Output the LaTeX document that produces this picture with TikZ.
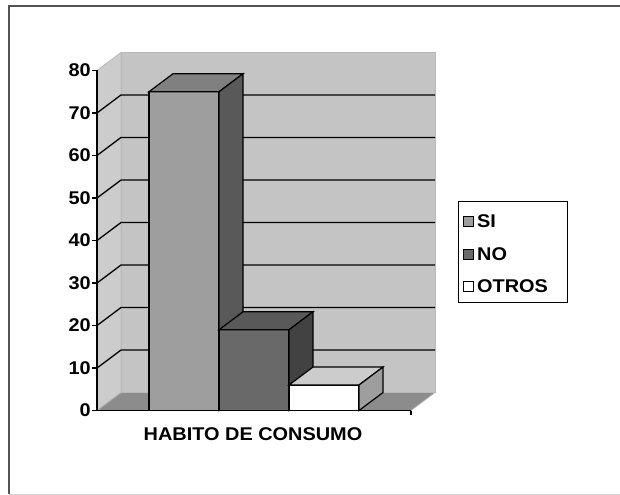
\documentclass[tikz,border=0pt]{standalone}
\usepackage{fontspec}
\newfontfamily\chartfont[FakeStretch=1.08]{Liberation Sans}
\definecolor{wallback}{gray}{0.77}
\definecolor{wallside}{gray}{0.80}
\definecolor{floorc}{gray}{0.55}
\definecolor{siF}{gray}{0.62}
\definecolor{siT}{gray}{0.50}
\definecolor{siS}{gray}{0.35}
\definecolor{noF}{gray}{0.41}
\definecolor{noT}{gray}{0.35}
\definecolor{noS}{gray}{0.26}
\definecolor{otF}{gray}{1}
\definecolor{otT}{gray}{0.80}
\definecolor{otS}{gray}{0.62}
\newcommand{\drawbar}[6]{%
  \pgfmathsetmacro{\yt}{410.5-4.25*#3}%
  \filldraw[barline, fill=#4] (#1,410.5) rectangle (#2,\yt);
  \filldraw[barline, fill=#5] (#1,\yt) -- ({#1+24},{\yt-18}) -- ({#2+24},{\yt-18}) -- (#2,\yt) -- cycle;
  \filldraw[barline, fill=#6] (#2,\yt) -- ({#2+24},{\yt-18}) -- ({#2+24},392.5) -- (#2,410.5) -- cycle;
}
\begin{document}
\begin{tikzpicture}[x=1bp,y=-1bp,
  lbl/.style={font=\chartfont\bfseries\fontsize{18.5}{21}\selectfont, text=black, inner sep=0pt},
  barline/.style={draw=black, line width=1.2bp, line join=miter},
  grid/.style={draw=black, line width=1.3bp},
  axisline/.style={draw=black, line width=1.3bp},
  wallline/.style={draw=gray!55, line width=0.8bp},
  legsq/.style={draw=black, line width=0.8bp}]
\useasboundingbox (0,0) rectangle (620,495);
% outer frame
\draw[gray!65!black, line width=1.5bp] (9,494) -- (9,6) -- (620,6);
\draw[gray!35, line width=1bp] (9,494) -- (620,494);
% walls and floor
\filldraw[wallline, fill=wallback] (121,52.5) rectangle (435,392.5);
\filldraw[wallline, fill=wallside] (97,70.5) -- (121,52.5) -- (121,392.5) -- (97,410.5) -- cycle;
\filldraw[wallline, fill=floorc] (97,410.5) -- (121,392.5) -- (435,392.5) -- (411,410.5) -- cycle;
% gridlines
\foreach \v in {10,20,...,70} {
  \pgfmathsetmacro{\yy}{410.5-4.25*\v}
  \draw[grid] (97,\yy) -- (121,{\yy-18}) -- (435,{\yy-18});
}
% axes
\draw[axisline] (97,70.5) -- (97,410.5) -- (411,410.5);
\draw[axisline] (411,410.5) -- (411,415);
\foreach \v in {0,10,...,80} {
  \pgfmathsetmacro{\yy}{410.5-4.25*\v}
  \draw[axisline] (92,\yy) -- (97,\yy);
  \node[lbl, anchor=east] (y\v) at (91,\yy) {\v};
}
% bars
\drawbar{149}{219}{75}{siF}{siT}{siS}
\drawbar{219}{289}{19}{noF}{noT}{noS}
\drawbar{289}{359}{6}{otF}{otT}{otS}
% x label
\node[lbl] (xlab) at (253,434) {HABITO DE CONSUMO};
% legend
\draw[black, line width=1bp, fill=white] (458,202) rectangle (567,302);
\node[legsq, fill=siF, minimum size=10bp, inner sep=0pt] (sqsi) at (468,221.5) {};
\node[legsq, fill=noF, minimum size=10bp, inner sep=0pt] (sqno) at (468,254) {};
\node[legsq, fill=otF, minimum size=10bp, inner sep=0pt] (sqot) at (468,286) {};
\node[lbl, anchor=west] (lsi) at (477,221.5) {SI};
\node[lbl, anchor=west] (lno) at (477,254) {NO};
\node[lbl, anchor=west] (lot) at (477,286) {OTROS};
\end{tikzpicture}
\end{document}
